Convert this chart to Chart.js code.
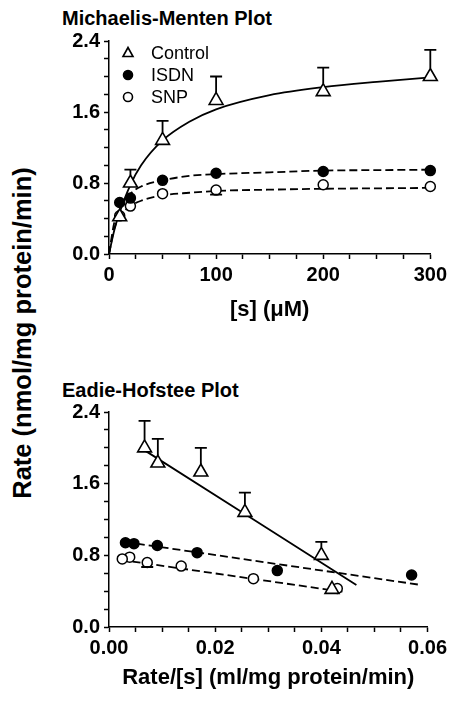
<!DOCTYPE html>
<html>
<head>
<meta charset="utf-8">
<script src="https://cdn.jsdelivr.net/npm/chart.js@4.4.0/dist/chart.umd.min.js"></script>
<style>
body{margin:0;background:#fff;width:451px;height:705px;position:relative;overflow:hidden;font-family:"Liberation Sans",Arial,sans-serif;color:#000;}
.ptitle{position:absolute;left:62px;font-weight:bold;font-size:20px;line-height:22px;white-space:nowrap;}
#ytitle{position:absolute;left:22px;top:333px;transform:translate(-50%,-50%) rotate(-90deg);font-weight:bold;font-size:25.5px;white-space:nowrap;}
canvas{position:absolute;left:0;}
</style>
</head>
<body>
<div class="ptitle" style="top:7px">Michaelis-Menten Plot</div>
<div class="ptitle" style="top:379px">Eadie-Hofstee Plot</div>
<div id="ytitle">Rate (nmol/mg protein/min)</div>
<canvas id="mm" width="451" height="335" style="top:0"></canvas>
<canvas id="eh" width="451" height="365" style="top:340px"></canvas>
<script>
// substrate concentrations (uM)
const CONC = [10, 20, 50, 100, 200, 300];
const CONTROL_RATE = [0.42, 0.80, 1.28, 1.73, 1.83, 2.00];
const CONTROL_ERR_TOP = [null, 0.95, 1.50, 2.00, 2.10, 2.30];
const ISDN_RATE = [0.58, 0.63, 0.83, 0.91, 0.93, 0.94];
const SNP_RATE = [0.43, 0.54, 0.68, 0.72, 0.78, 0.76];
const SNP_ERR_LOW = [null, null, null, 0.67, null, null];

// fitted curves
const FIT_CONC = [0, 5, 10, 20, 30, 50, 75, 100, 150, 200, 250, 300];
const CONTROL_FIT = [0, 0.27, 0.47, 0.78, 1.00, 1.28, 1.49, 1.63, 1.79, 1.88, 1.94, 1.99];
const ISDN_FIT = [0, 0.36, 0.52, 0.68, 0.76, 0.83, 0.88, 0.90, 0.92, 0.94, 0.945, 0.95];
const SNP_FIT = [0, 0.29, 0.42, 0.54, 0.60, 0.66, 0.69, 0.71, 0.725, 0.735, 0.74, 0.745];

// Eadie-Hofstee x values, rate/[s] (same order as CONC)
const EH_CONTROL_X = [0.042, 0.040, 0.0256, 0.0173, 0.0092, 0.0067];
const EH_ISDN_X = [0.057, 0.0317, 0.0166, 0.0091, 0.0047, 0.0031];
const EH_SNP_X = [0.043, 0.0272, 0.0136, 0.0072, 0.0039, 0.0025];

// regression lines on the Eadie-Hofstee panel
const EH_CONTROL_LINE_X = [0.0065, 0.0466], EH_CONTROL_LINE_Y = [1.98, 0.47];
const EH_ISDN_LINE_X = [0.003, 0.0587], EH_ISDN_LINE_Y = [0.95, 0.47];
const EH_SNP_LINE_X = [0.0022, 0.0444], EH_SNP_LINE_Y = [0.75, 0.39];

const LEGEND_LABELS = ['Control', 'ISDN', 'SNP'];

Chart.defaults.font.family = '"Liberation Sans", Arial, sans-serif';
Chart.defaults.color = '#000';

const pts = (xs, ys) => xs.map((x, i) => ({x: x, y: ys[i]}));

// vertical error bars with a cap
const errorBars = {
    id: 'errorBars',
    afterDatasetsDraw(chart, args, opts) {
        const ctx = chart.ctx, x = chart.scales.x, y = chart.scales.y;
        ctx.save();
        ctx.strokeStyle = '#000';
        ctx.lineWidth = 1.8;
        (opts.bars || []).forEach(b => {
            b.xs.forEach((xv, i) => {
                const e = b.ends[i];
                if (e == null) return;
                const px = x.getPixelForValue(xv);
                const p0 = y.getPixelForValue(b.ys[i]);
                const p1 = y.getPixelForValue(e);
                const start = p1 < p0 ? p0 - b.gap : p0 + b.gap;
                ctx.beginPath();
                ctx.moveTo(px, start); ctx.lineTo(px, p1);
                ctx.moveTo(px - 6, p1); ctx.lineTo(px + 6, p1);
                ctx.stroke();
            });
        });
        ctx.restore();
    }
};

// legend drawn inside the plot area, top left
const insideLegend = {
    id: 'insideLegend',
    afterDraw(chart, args, opts) {
        if (!opts.show) return;
        const ctx = chart.ctx, a = chart.chartArea;
        ctx.save();
        ctx.lineWidth = 1.6;
        ctx.strokeStyle = '#000';
        LEGEND_LABELS.forEach((label, i) => {
            const cx = a.left + 19, cy = a.top + 12 + i * 22;
            ctx.beginPath();
            if (i === 0) {
                ctx.moveTo(cx, cy - 5.5); ctx.lineTo(cx + 5, cy + 3.5); ctx.lineTo(cx - 5, cy + 3.5); ctx.closePath();
                ctx.fillStyle = '#fff';
            } else {
                ctx.arc(cx, cy, 4.5, 0, Math.PI * 2);
                ctx.fillStyle = i === 1 ? '#000' : '#fff';
            }
            ctx.fill(); ctx.stroke();
            ctx.fillStyle = '#000';
            ctx.font = '18px "Liberation Sans", Arial, sans-serif';
            ctx.textBaseline = 'middle';
            ctx.fillText(label, a.left + 42, cy + 1);
        });
        ctx.restore();
    }
};

function isMultiple(v, m) {
    const r = v / m;
    return Math.abs(r - Math.round(r)) < 1e-6;
}

function makeScales(xMax, xStep, xMajor, xDigits, xTitle, xHeight, titlePad) {
    const tickFont = {size: 20, weight: 'bold'};
    const common = {
        grid: {drawOnChartArea: false, tickLength: 5, tickColor: '#000', tickWidth: 1.5},
        border: {display: true, color: '#000', width: 1.5}
    };
    return {
        x: Object.assign({}, common, {
            type: 'linear', min: 0, max: xMax,
            afterFit: s => { s.height = xHeight; },
            ticks: {stepSize: xStep, autoSkip: false, maxRotation: 0, padding: 4, font: tickFont,
                callback: v => isMultiple(v, xMajor) ? v.toFixed(xDigits) : ''},
            title: {display: true, text: xTitle, font: {size: 22, weight: 'bold'}, padding: {top: 0, bottom: titlePad}}
        }),
        y: Object.assign({}, common, {
            type: 'linear', min: 0, max: 2.4,
            afterFit: s => { s.width = 109; },
            ticks: {stepSize: 0.2, autoSkip: false, padding: 4, font: tickFont,
                callback: v => isMultiple(v, 0.8) ? v.toFixed(1) : ''}
        })
    };
}

function pointSets(cx, ix, sx) {
    return [
        {label: 'Control', data: pts(cx, CONTROL_RATE), pointStyle: 'triangle', pointRadius: 8, clip: false,
            backgroundColor: '#fff', borderColor: '#000', borderWidth: 1.6, showLine: false},
        {label: 'ISDN', data: pts(ix, ISDN_RATE), pointStyle: 'circle', pointRadius: 5, clip: false,
            backgroundColor: '#000', borderColor: '#000', borderWidth: 1.5, showLine: false},
        {label: 'SNP', data: pts(sx, SNP_RATE), pointStyle: 'circle', pointRadius: 5, clip: false,
            backgroundColor: '#fff', borderColor: '#000', borderWidth: 1.5, showLine: false}
    ];
}

function lineSet(xs, ys, dashed) {
    return {label: 'fit', data: pts(xs, ys), showLine: true, pointRadius: 0, borderColor: '#000',
        borderWidth: 1.8, borderDash: dashed ? [8, 4] : [], cubicInterpolationMode: 'monotone', fill: false};
}

const baseOptions = (legend, scales, padTop, bars) => ({
    responsive: false,
    animation: false,
    layout: {padding: {left: 0, right: 19, top: padTop, bottom: 0}},
    plugins: {legend: {display: false}, tooltip: {enabled: false},
        insideLegend: {show: legend}, errorBars: {bars: bars}},
    scales: scales
});

new Chart(document.getElementById('mm').getContext('2d'), {
    type: 'scatter',
    data: {datasets: pointSets(CONC, CONC, CONC).concat([
        lineSet(FIT_CONC, CONTROL_FIT, false),
        lineSet(FIT_CONC, ISDN_FIT, true),
        lineSet(FIT_CONC, SNP_FIT, true)
    ])},
    options: baseOptions(true, makeScales(300, 25, 100, 0, '[s] (\u03BCM)', 81, 12), 41, [
        {xs: CONC, ys: CONTROL_RATE, ends: CONTROL_ERR_TOP, gap: 8},
        {xs: CONC, ys: SNP_RATE, ends: SNP_ERR_LOW, gap: 5}
    ]),
    plugins: [errorBars, insideLegend]
});

new Chart(document.getElementById('eh').getContext('2d'), {
    type: 'scatter',
    data: {datasets: pointSets(EH_CONTROL_X, EH_ISDN_X, EH_SNP_X).concat([
        lineSet(EH_CONTROL_LINE_X, EH_CONTROL_LINE_Y, false),
        lineSet(EH_ISDN_LINE_X, EH_ISDN_LINE_Y, true),
        lineSet(EH_SNP_LINE_X, EH_SNP_LINE_Y, true)
    ])},
    options: baseOptions(false, makeScales(0.06, 0.005, 0.02, 2, 'Rate/[s] (ml/mg protein/min)', 78, 14), 72, [
        {xs: EH_CONTROL_X, ys: CONTROL_RATE, ends: CONTROL_ERR_TOP, gap: 8},
        {xs: EH_SNP_X, ys: SNP_RATE, ends: SNP_ERR_LOW, gap: 5}
    ]),
    plugins: [errorBars, insideLegend]
});
</script>
</body>
</html>
